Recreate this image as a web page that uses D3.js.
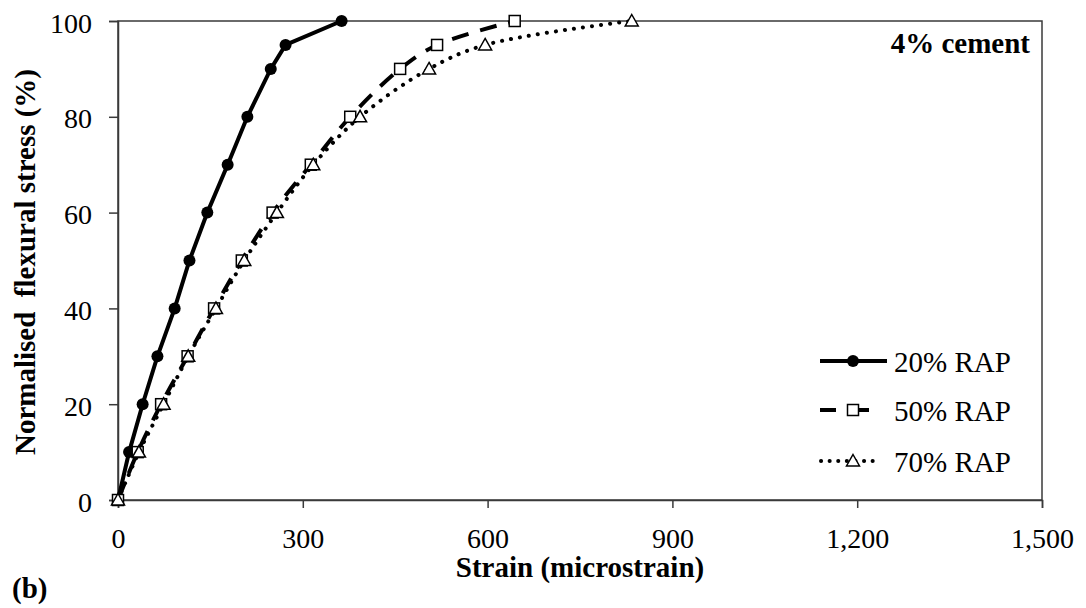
<!DOCTYPE html>
<html><head><meta charset="utf-8">
<script src="https://cdn.jsdelivr.net/npm/d3@7"></script>
<style>body{margin:0;background:#fff}svg{display:block}svg text{font-family:"Liberation Serif","Times New Roman",serif !important}</style>
</head><body><svg id="c" width="1086" height="608" font-family="Liberation Serif"></svg>
<script>
const stressLevels = [0,10,20,30,40,50,60,70,80,90,95,100];
const rap20 = [0,18,40,64,92,116,145,178,210,248,272,363];
const rap50 = [0,32,70,113,156,201,251,313,377,458,518,644];
const rap70 = [0,34,74,114,159,205,258,317,393,505,596,834];
const xTicks = [0,300,600,900,1200,1500];
const yTicks = [0,20,40,60,80,100];
const seriesNames = ["20% RAP","50% RAP","70% RAP"];

const FONT = "Liberation Serif";
const svg = d3.select("#c");
const L=118,R=1042,T=21,B=500;
const x = d3.scaleLinear().domain([0,1500]).range([L,R]);
const y = d3.scaleLinear().domain([0,100]).range([B,T]);
const axisCol="#3a3a3a";

function setFont(sel){ return sel.attr("font-family",FONT).style("font-family",FONT,"important"); }

svg.append("rect").attr("x",L).attr("y",T).attr("width",R-L).attr("height",B-T)
  .attr("fill","none").attr("stroke",axisCol).attr("stroke-width",1.5);

const xa = svg.append("g").attr("transform",`translate(0,${B})`)
  .call(d3.axisBottom(x).tickValues(xTicks).tickSize(8).tickFormat(d3.format(",")));
const ya = svg.append("g").attr("transform",`translate(${L},0)`)
  .call(d3.axisLeft(y).tickValues(yTicks).tickSize(9));
[xa,ya].forEach(g=>{
  setFont(g);
  g.select(".domain").attr("stroke",axisCol).attr("stroke-width",1.5);
  g.selectAll(".tick line").attr("stroke",axisCol).attr("stroke-width",1.5);
  setFont(g.selectAll(".tick text")).attr("font-size",28).attr("fill","#000");
});
xa.selectAll(".tick text").attr("y",48).attr("dy",0);
ya.selectAll(".tick text").attr("x",-26).attr("y",11).attr("dy",0);

const mk = arr => arr.map((v,i)=>({x:v,y:stressLevels[i]}));
const d20=mk(rap20), d50=mk(rap50), d70=mk(rap70);

const lineLin = d3.line().x(d=>x(d.x)).y(d=>y(d.y));
const lineSm = d3.line().x(d=>x(d.x)).y(d=>y(d.y)).curve(d3.curveCatmullRom.alpha(0.5));

const styles = [
  {data:d20, gen:lineLin, dash:null, cap:"butt"},
  {data:d50, gen:lineSm, dash:"17,12", cap:"butt"},
  {data:d70, gen:lineSm, dash:"0.1,9", cap:"round"}
];
styles.forEach(s=>{
  svg.append("path").datum(s.data).attr("d",s.gen).attr("fill","none")
    .attr("stroke","#000").attr("stroke-width",4).attr("stroke-linecap",s.cap)
    .attr("stroke-dasharray",s.dash);
});

function drawMarker(g, kind, cx, cy){
  if(kind===0){
    g.append("circle").attr("cx",cx).attr("cy",cy).attr("r",6).attr("fill","#000");
  } else if(kind===1){
    g.append("rect").attr("x",cx-5.5).attr("y",cy-5.5).attr("width",11).attr("height",11)
      .attr("fill","#fff").attr("stroke","#000").attr("stroke-width",1.5);
  } else {
    g.append("path").attr("d",`M${cx},${cy-6.5}L${cx+6.5},${cy+5}L${cx-6.5},${cy+5}Z`)
      .attr("fill","#fff").attr("stroke","#000").attr("stroke-width",1.5);
  }
}
const mg = svg.append("g");
[d20,d50,d70].forEach((arr,k)=>arr.forEach(d=>drawMarker(mg,k,x(d.x),y(d.y))));

const legY=[361,410,461];
const lg = svg.append("g");
legY.forEach((ly,k)=>{
  if(k===0){
    lg.append("line").attr("x1",820).attr("x2",887).attr("y1",ly).attr("y2",ly).attr("stroke","#000").attr("stroke-width",4);
  } else if(k===1){
    lg.append("line").attr("x1",820).attr("x2",836).attr("y1",ly).attr("y2",ly).attr("stroke","#000").attr("stroke-width",4);
    lg.append("line").attr("x1",853).attr("x2",869).attr("y1",ly).attr("y2",ly).attr("stroke","#000").attr("stroke-width",4);
  } else {
    lg.append("line").attr("x1",821).attr("x2",880).attr("y1",ly).attr("y2",ly).attr("stroke","#000").attr("stroke-width",4)
      .attr("stroke-linecap","round").attr("stroke-dasharray","0.1,8.5");
  }
  drawMarker(lg,k,853,ly);
  setFont(lg.append("text")).attr("x",894).attr("y",ly+11).attr("font-size",29).attr("fill","#000").text(seriesNames[k]);
});

setFont(svg.append("text")).attr("x",1030).attr("y",53).attr("text-anchor","end").attr("font-size",29)
  .attr("font-weight","bold").text("4% cement");
setFont(svg.append("text")).attr("x",580).attr("y",577).attr("text-anchor","middle").attr("font-size",29)
  .attr("font-weight","bold").text("Strain (microstrain)");
setFont(svg.append("text")).attr("x",12).attr("y",598).attr("font-size",29).attr("font-weight","bold").text("(b)");
setFont(svg.append("text")).attr("transform","translate(35,262) rotate(-90)").attr("text-anchor","middle")
  .attr("font-size",29).attr("font-weight","bold").style("white-space","pre")
  .text("Normalised  flexural stress (%)");
</script></body></html>
